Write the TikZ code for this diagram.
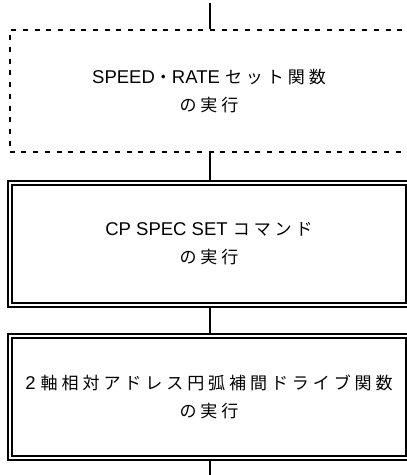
\documentclass[tikz,border=0pt]{standalone}
\usepackage{fontspec}
\setmainfont{Liberation Sans}
\newfontfamily\jpfont[Scale=0.92,LetterSpace=23]{Noto Sans CJK JP}
\usetikzlibrary{positioning}
\definecolor{fcInk}{HTML}{000000}
\tikzset{
 flowchart/.style={x=1pt,y=1pt,node distance=29pt,text=fcInk,
   font=\fontsize{18.5}{28}\selectfont},
 procbox/.style={rectangle,draw=fcInk,align=center,inner sep=0pt,
   minimum width=398.5pt,minimum height=122pt,
   execute at begin node={\rule{0pt}{29pt}}},
 setbox/.style={procbox,line width=2pt,dash pattern=on 5pt off 6.7pt},
 callbox/.style={procbox,line width=2pt,double=white,double distance=2.3pt},
 flow/.style={draw=fcInk,line width=2pt},
}
\newcommand{\jp}[1]{{\jpfont #1}}

\begin{document}
\begin{tikzpicture}[flowchart]
 \useasboundingbox (0,0) rectangle (407,-475);
 \node[setbox] (speed) at (209,-91) {SPEED\jp{・}RATE \jp{セット関数}\\\jp{の実行}};
 \node[callbox,below=of speed] (cpspec) {CP SPEC SET \jp{コマンド}\\\jp{の実行}};
 \node[callbox,below=of cpspec] (arcdrv) {2 \jp{軸相対アドレス円弧補間ドライブ関数}\\\jp{の実行}};
 \coordinate (entry) at (210,-3);
 \coordinate (exit) at (210,-475);
 \draw[flow] (entry) -- (entry |- speed.north);
 \draw[flow] (speed.south -| entry) -- (entry |- cpspec.north);
 \draw[flow] (cpspec.south -| entry) -- (entry |- arcdrv.north);
 \draw[flow] (arcdrv.south -| entry) -- (exit);
\end{tikzpicture}
\end{document}
